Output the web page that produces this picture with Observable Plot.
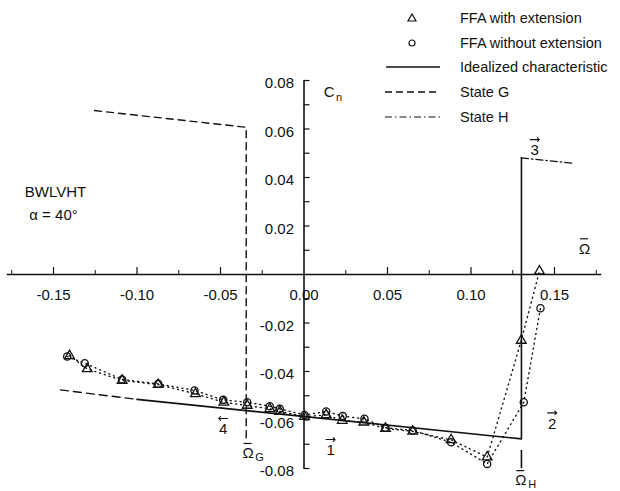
<!DOCTYPE html>
<html>
<head>
<meta charset="utf-8">
<script src="https://cdn.jsdelivr.net/npm/d3@7"></script>
<script src="https://cdn.jsdelivr.net/npm/@observablehq/plot@0.6"></script>
<style>
  html, body { margin: 0; padding: 0; background: #fff; }
  #wrap { position: relative; width: 620px; height: 491px; font-family: "Liberation Sans", Arial, sans-serif; color: #111; }
  #legend { position: absolute; left: 0; top: 0; width: 620px; height: 130px; pointer-events: none; }
  .row { position: absolute; left: 383px; height: 20px; display: flex; align-items: center; }
  .row svg { width: 60px; height: 20px; margin-right: 17px; }
  .row span { font-size: 14.5px; white-space: nowrap; }
</style>
</head>
<body>
<div id="wrap">
  <div id="chart"></div>
  <div id="legend"></div>
</div>
<script>
// ---------- data ----------
const withExtX = [-0.1404,-0.1298,-0.1089,-0.0873,-0.0650,-0.0480,-0.0340,-0.0205,-0.0145,0.0003,0.0133,0.0229,0.0358,0.0488,0.0651,0.0881,0.1097,0.1301,0.1410];
const withExtY = [-0.0335,-0.0389,-0.0437,-0.0454,-0.0492,-0.0527,-0.0540,-0.0554,-0.0565,-0.0586,-0.0579,-0.0602,-0.0609,-0.0635,-0.0647,-0.0682,-0.0753,-0.0272,0.0014];
const noExtX = [-0.1418,-0.1313,-0.1089,-0.0873,-0.0656,-0.0484,-0.0340,-0.0205,-0.0145,0.0003,0.0133,0.0232,0.0362,0.0488,0.0651,0.0881,0.1097,0.1316,0.1416];
const noExtY = [-0.0338,-0.0366,-0.0433,-0.0451,-0.0478,-0.0517,-0.0527,-0.0543,-0.0554,-0.0579,-0.0565,-0.0584,-0.0595,-0.0632,-0.0643,-0.0692,-0.0781,-0.0527,-0.0139];

// idealized characteristic (solid) and its dashed extension
const idealX = [-0.100, 0.1302, 0.1302];
const idealY = [-0.0515, -0.0678, 0.0481];
const idealExtX = [-0.1458, -0.100];
const idealExtY = [-0.0476, -0.0515];
// State G (dashed)
const stateGX = [-0.1254, -0.0346, -0.0346];
const stateGY = [0.0676, 0.0607, -0.0676];
// State H (dash-dot)
const stateHX = [0.1302, 0.1606];
const stateHY = [0.0481, 0.0459];
// Omega_H marker tick
const markHX = [0.1302, 0.1302];
const markHY = [-0.0726, -0.0796];

// axes
const xAxisExtent = [-0.178, 0.178];
const yAxisExtent = [-0.08, 0.08];
const xMajorTicks = [-0.15, -0.10, -0.05, 0.05, 0.10, 0.15];
const xMinorTicks = [-0.175, -0.125, -0.075, -0.025, 0.025, 0.075, 0.125, 0.175];
const xTickLabels = [-0.15, -0.10, -0.05, 0.00, 0.05, 0.10, 0.15];
const yTicks = [-0.08,-0.07,-0.06,-0.05,-0.04,-0.03,-0.02,-0.01,0.01,0.02,0.03,0.04,0.05,0.06,0.07,0.08];
const yTickLabels = [-0.08, -0.06, -0.04, -0.02, 0.02, 0.04, 0.06, 0.08];

// annotations
const arrowDigits = ["4", "1", "2", "3"];
const arrowDirections = [-90, 90, 90, 90];
const arrowX = [-0.0484, 0.0159, 0.1486, 0.1382];
const arrowY = [-0.0639, -0.0726, -0.0616, 0.0511];

const omegaNames = ["", "G", "H"];
const omegaX = [0.168, -0.0335, 0.1298];
const omegaY = [0.0106, -0.0738, -0.0850];

const configText = ["BWLVHT", "α = 40°"];
const configX = [-0.1488, -0.1500];
const configY = [0.0338, 0.0243];

const legendLabels = ["FFA with extension", "FFA without extension", "Idealized characteristic", "State G", "State H"];

// ---------- build ----------
const pts = (xs, ys) => xs.map((x, i) => ({x, y: ys[i]}));
const withExt = pts(withExtX, withExtY);
const noExt = pts(noExtX, noExtY);
const ideal = pts(idealX, idealY);
const idealExt = pts(idealExtX, idealExtY);
const stateG = pts(stateGX, stateGY);
const stateH = pts(stateHX, stateHY);
const markH = pts(markHX, markHY);
const arrows = arrowDigits.map((d, i) => ({d, r: arrowDirections[i], x: arrowX[i], y: arrowY[i]}));
const omegas = omegaNames.map((n, i) => ({n, x: omegaX[i], y: omegaY[i]}));
const config = configText.map((t, i) => ({t, x: configX[i], y: configY[i]}));

const ink = "#111";
const font = "'Liberation Sans', Arial, sans-serif";

const chart = Plot.plot({
  width: 620,
  height: 491,
  margin: 0,
  style: {fontFamily: font, background: "#fff", color: ink, overflow: "visible"},
  x: {domain: [-0.15, 0.15], range: [53, 554], axis: null},
  y: {domain: [-0.08, 0.08], range: [468, 80], axis: null},
  marks: [
    // axes
    Plot.link([{}], {x1: xAxisExtent[0], x2: xAxisExtent[1], y1: 0, y2: 0, stroke: ink, strokeWidth: 1.6}),
    Plot.link([{}], {x1: 0, x2: 0, y1: yAxisExtent[0], y2: yAxisExtent[1], stroke: ink, strokeWidth: 1.6}),
    Plot.ruleX(xMajorTicks, {x: d => d, y1: 0, y2: 0, insetTop: -7, stroke: ink, strokeWidth: 1.2}),
    Plot.ruleX(xMinorTicks, {x: d => d, y1: 0, y2: 0, insetTop: -4, stroke: ink, strokeWidth: 1}),
    Plot.ruleY(yTicks, {y: d => d, x1: 0, x2: 0, insetRight: -6, stroke: ink, strokeWidth: 1.2}),
    Plot.text(xTickLabels, {x: d => d, y: 0, text: d => d.toFixed(2), dy: 21, fontSize: 15, fill: ink}),
    Plot.text(yTickLabels, {x: 0, y: d => d, text: d => d.toFixed(2), textAnchor: "end", dx: -10, dy: 3, fontSize: 15, fill: ink}),
    // C_n and Omega labels
    Plot.text([{x: 0.0150, y: 0.075}], {x: "x", y: "y", text: () => "C", fontSize: 15, fill: ink}),
    Plot.text([{x: 0.0150, y: 0.075}], {x: "x", y: "y", text: () => "n", dx: 10, dy: 5, fontSize: 11, fill: ink}),
    Plot.text(omegas, {x: "x", y: "y", text: () => "Ω", fontSize: 15, fill: ink}),
    Plot.ruleY(omegas, {y: "y", x1: "x", x2: "x", insetLeft: -4, insetRight: -4, dy: -10, stroke: ink, strokeWidth: 1.2}),
    Plot.text(omegas, {x: "x", y: "y", text: "n", dx: 11.5, dy: 4, fontSize: 11, fill: ink}),
    // arrows with numbers
    Plot.text(arrows, {x: "x", y: "y", text: "d", fontSize: 15, fill: ink}),
    Plot.vector(arrows, {x: "x", y: "y", rotate: "r", length: 9, anchor: "middle", dy: -11, stroke: ink, strokeWidth: 1.1}),
    // configuration text
    Plot.text(config, {x: "x", y: "y", text: "t", fontSize: 15, fill: ink}),
    // idealized / state lines
    Plot.line(idealExt, {x: "x", y: "y", stroke: ink, strokeWidth: 1.4, strokeDasharray: "8,5"}),
    Plot.line(ideal, {x: "x", y: "y", stroke: ink, strokeWidth: 1.6}),
    Plot.line(markH, {x: "x", y: "y", stroke: ink, strokeWidth: 1.6}),
    Plot.line(stateG, {x: "x", y: "y", stroke: ink, strokeWidth: 1.4, strokeDasharray: "7,5"}),
    Plot.line(stateH, {x: "x", y: "y", stroke: ink, strokeWidth: 1.3, strokeDasharray: "7,3,1.5,3"}),
    // data series
    Plot.line(withExt, {x: "x", y: "y", stroke: ink, strokeWidth: 1.4, strokeDasharray: "1,4", strokeLinecap: "round"}),
    Plot.line(noExt, {x: "x", y: "y", stroke: ink, strokeWidth: 1.4, strokeDasharray: "1,4", strokeLinecap: "round"}),
    Plot.dot(withExt, {x: "x", y: "y", symbol: "triangle", r: 3.6, stroke: ink, strokeWidth: 1.3, fill: "none"}),
    Plot.dot(noExt, {x: "x", y: "y", symbol: "circle", r: 3.6, stroke: ink, strokeWidth: 1.3, fill: "none"})
  ]
});
document.getElementById("chart").appendChild(chart);

// ---------- legend ----------
const legend = document.getElementById("legend");
const swatches = [
  `<polygon points="29,6 33,13 25,13" fill="none" stroke="${ink}" stroke-width="1.2"/>`,
  `<circle cx="29" cy="10" r="3" fill="none" stroke="${ink}" stroke-width="1.2"/>`,
  `<line x1="3" x2="57" y1="10" y2="10" stroke="${ink}" stroke-width="1.5"/>`,
  `<line x1="2" x2="57" y1="10" y2="10" stroke="${ink}" stroke-width="1.4" stroke-dasharray="7,4"/>`,
  `<line x1="2" x2="57" y1="10" y2="10" stroke="${ink}" stroke-width="1.2" stroke-dasharray="7,3,1.5,3"/>`
];
legendLabels.forEach((label, i) => {
  const row = document.createElement("div");
  row.className = "row";
  row.style.top = (8 + i * 24.7) + "px";
  row.innerHTML = `<svg viewBox="0 0 60 20">${swatches[i]}</svg><span>${label}</span>`;
  legend.appendChild(row);
});
</script>
</body>
</html>
